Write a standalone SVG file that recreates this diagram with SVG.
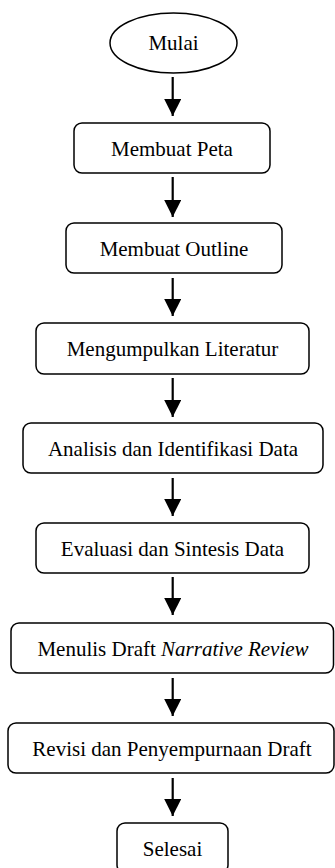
<svg xmlns="http://www.w3.org/2000/svg" width="335" height="868" viewBox="0 0 335 868">
<style>
.box{fill:#fff;stroke:#000;stroke-width:1.5}
.t{font-family:"Liberation Serif","Times New Roman",serif;font-size:21px;fill:#000;text-anchor:middle}
.c{stroke:#000;stroke-width:2.2;fill:none}
</style>
<defs>
<marker id="ah" markerUnits="userSpaceOnUse" markerWidth="17" markerHeight="17" refX="17" refY="8.5" orient="auto" viewBox="0 0 17 17">
<path d="M0,0 L17,8.5 L0,17 Z" fill="#000"/>
</marker>
</defs>
<rect width="335" height="868" fill="#fff"/>
<g id="connectors">
<line class="c" x1="172.7" y1="77" x2="172.7" y2="116" marker-end="url(#ah)"/>
<line class="c" x1="172.7" y1="177" x2="172.7" y2="217" marker-end="url(#ah)"/>
<line class="c" x1="172.7" y1="278" x2="172.7" y2="316" marker-end="url(#ah)"/>
<line class="c" x1="172.7" y1="378" x2="172.7" y2="417" marker-end="url(#ah)"/>
<line class="c" x1="172.7" y1="478" x2="172.7" y2="516" marker-end="url(#ah)"/>
<line class="c" x1="172.7" y1="577" x2="172.7" y2="615" marker-end="url(#ah)"/>
<line class="c" x1="172.7" y1="678" x2="172.7" y2="716" marker-end="url(#ah)"/>
<line class="c" x1="172.7" y1="778" x2="172.7" y2="816" marker-end="url(#ah)"/>
</g>
<g id="mulai">
<ellipse class="box" cx="173.5" cy="43" rx="63.5" ry="30"/>
<text class="t" x="173.5" y="50">Mulai</text>
</g>
<g id="membuat-peta">
<rect class="box" x="74" y="123" width="196" height="50" rx="8"/>
<text class="t" x="172" y="156">Membuat Peta</text>
</g>
<g id="membuat-outline">
<rect class="box" x="66" y="223" width="216" height="50" rx="8"/>
<text class="t" x="174" y="256">Membuat Outline</text>
</g>
<g id="mengumpulkan-literatur">
<rect class="box" x="36" y="323" width="273" height="51" rx="8"/>
<text class="t" x="172.5" y="356">Mengumpulkan Literatur</text>
</g>
<g id="analisis">
<rect class="box" x="23" y="423" width="300" height="50" rx="8"/>
<text class="t" x="173" y="456">Analisis dan Identifikasi Data</text>
</g>
<g id="evaluasi">
<rect class="box" x="36" y="523" width="273" height="50" rx="8"/>
<text class="t" x="172.5" y="556">Evaluasi dan Sintesis Data</text>
</g>
<g id="menulis-draft">
<rect class="box" x="11" y="623" width="322.5" height="50" rx="8"/>
<text class="t" x="173" y="656">Menulis Draft <tspan font-style="italic">Narrative Review</tspan></text>
</g>
<g id="revisi">
<rect class="box" x="8" y="723" width="326" height="50" rx="8"/>
<text class="t" x="172" y="756">Revisi dan Penyempurnaan Draft</text>
</g>
<g id="selesai">
<rect class="box" x="117" y="823" width="111" height="50" rx="8"/>
<text class="t" x="172.5" y="856">Selesai</text>
</g>
</svg>
